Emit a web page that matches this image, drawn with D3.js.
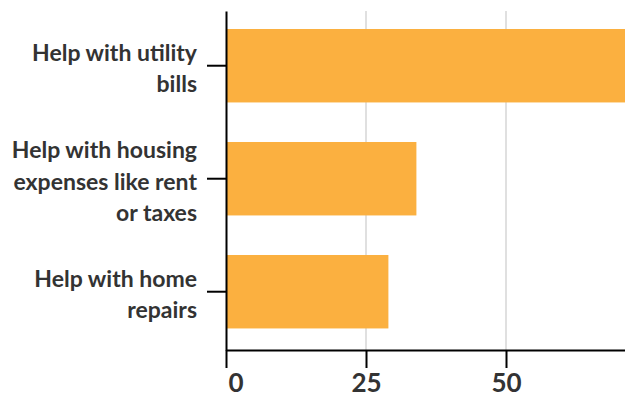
<!DOCTYPE html>
<html>
<head>
<meta charset="utf-8">
<script src="https://cdn.jsdelivr.net/npm/d3@7"></script>
<style>
  body { margin: 0; background: #fff; }
  svg { display: block; }
</style>
</head>
<body>
<div id="chart"></div>
<script>
(function () {

// data
var categories = ["utility", "housing", "repairs"];
var categoryLines = [
  ["Help with utility", "bills"],
  ["Help with housing", "expenses like rent", "or taxes"],
  ["Help with home", "repairs"]
];
var values = [74, 34, 29];
var xTicks = [0, 25, 50];

var width = 625;
var height = 394;

var margin = { top: 11, left: 226, bottom: 44 };
var innerHeight = height - margin.top - margin.bottom;

var svg = d3.select("#chart")
  .append("svg")
  .attr("width", width)
  .attr("height", height);

var g = svg.append("g")
  .attr("transform", "translate(" + margin.left + "," + margin.top + ")");

// 5.6px per unit, the domain runs past the right edge of the page
var x = d3.scaleLinear().domain([0, 80]).range([0, 448]);
var y = d3.scaleBand()
  .domain(categories)
  .range([0, innerHeight])
  .paddingInner(0.35)
  .paddingOuter(0.175)
  .align(0.455);

// gridlines
g.selectAll(".grid")
  .data(xTicks.filter(function (d) { return d > 0; }))
  .enter().append("line")
  .attr("class", "grid")
  .attr("x1", function (d) { return x(d); })
  .attr("x2", function (d) { return x(d); })
  .attr("y1", 0)
  .attr("y2", innerHeight)
  .style("stroke", "#e0e0e0")
  .style("stroke-width", "2px");

// bars
g.selectAll(".bar")
  .data(values)
  .enter().append("rect")
  .attr("class", "bar")
  .attr("x", x(0))
  .attr("y", function (d, i) { return y(categories[i]); })
  .attr("width", function (d) { return x(d) - x(0); })
  .attr("height", y.bandwidth())
  .style("fill", "#fbb040");

// y axis with wrapped labels
var yAxis = g.append("g")
  .call(d3.axisLeft(y).tickSize(19).tickSizeOuter(0).tickFormat(""));

yAxis.selectAll(".tick text").remove();
yAxis.selectAll(".tick").each(function (d, i) {
  var lines = categoryLines[i];
  var n = lines.length;
  var t = d3.select(this).append("text")
    .attr("x", -29)
    .attr("text-anchor", "end")
    .style("font-family", "Lato, sans-serif")
    .style("font-weight", "bold")
    .style("font-size", "23px")
    .style("fill", "#333");
  lines.forEach(function (line, j) {
    t.append("tspan")
      .attr("x", -29)
      .attr("y", 11 + (j - (n - 1) / 2) * 31.5)
      .text(line);
  });
});

// x axis
var xAxis = g.append("g")
  .attr("transform", "translate(0," + innerHeight + ")")
  .call(d3.axisBottom(x).tickValues(xTicks).tickSize(18).tickSizeOuter(0));

xAxis.selectAll(".tick text")
  .attr("y", 42)
  .attr("dy", 0)
  .attr("text-anchor", function (d) { return d === 0 ? "start" : "middle"; })
  .attr("x", function (d) { return d === 0 ? 2 : 0; })
  .style("font-family", "Lato, sans-serif")
  .style("font-weight", "bold")
  .style("font-size", "26px")
  .style("fill", "#333");

[yAxis, xAxis].forEach(function (a) {
  a.select(".domain").style("stroke", "#000").style("stroke-width", "2px");
  a.selectAll(".tick line").style("stroke", "#000").style("stroke-width", "2px");
});

})();
</script>
</body>
</html>
